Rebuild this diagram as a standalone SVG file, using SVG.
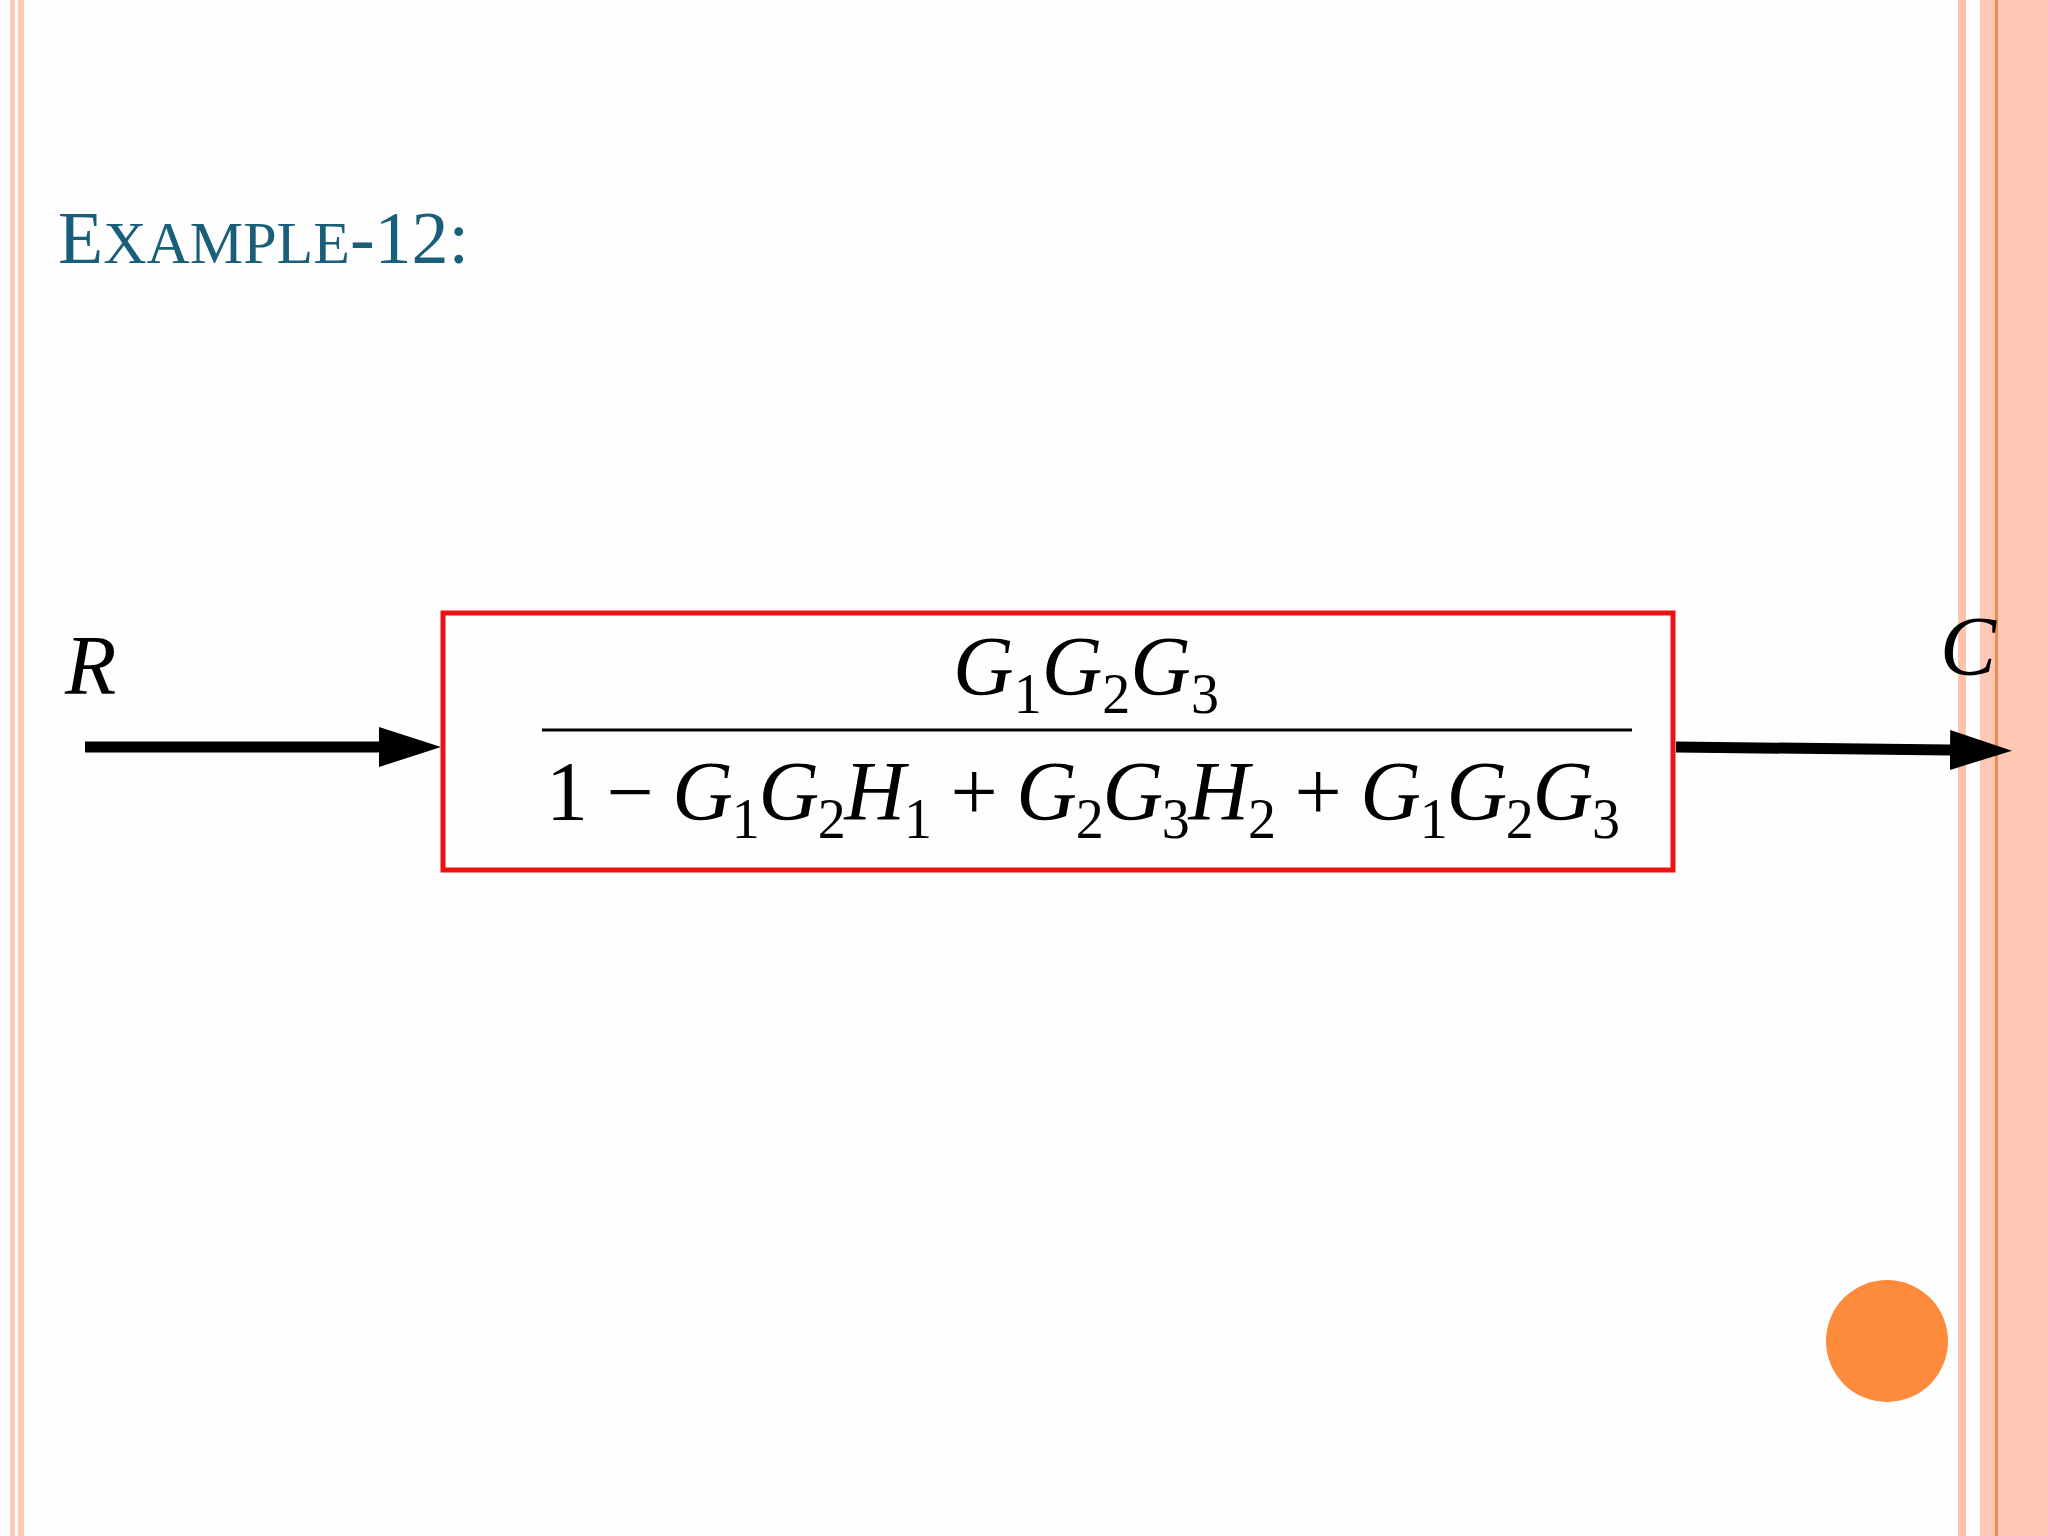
<svg xmlns="http://www.w3.org/2000/svg" width="2048" height="1536" viewBox="0 0 2048 1536">
<style>
.m{font-family:"Liberation Serif",serif;font-style:italic;font-size:84px;fill:#000}
.n{font-style:normal}
.s{font-size:56px;font-style:normal}
.ln{stroke:#000;stroke-width:11;fill:none}
</style>
<defs>
<marker id="h" viewBox="0 0 62 40" refX="0" refY="20" markerWidth="62" markerHeight="40" markerUnits="userSpaceOnUse" orient="auto"><path d="M0,0L62,20L0,40z" fill="#000"/></marker></defs>
<rect width="2048" height="1536" fill="#fefefe"/>
<rect x="10" y="0" width="5" height="1536" fill="#fbc9b6"/>
<rect x="18" y="0" width="6" height="1536" fill="#fbc9b6"/>
<rect x="1958" y="0" width="8" height="1536" fill="#fcc4ad"/>
<rect x="1980" y="0" width="68" height="1536" fill="#fdc8b4"/>
<rect x="1995" y="0" width="3" height="1536" fill="#f5874a"/>
<text x="58" y="263" font-family="Liberation Serif,serif" fill="#1a5f7a" font-size="74">E<tspan font-size="60">XAMPLE</tspan>-12:</text>
<g id="connectors">
<line class="ln" x1="85" y1="747" x2="379" y2="747" marker-end="url(#h)"/>
<line class="ln" x1="1676" y1="747" x2="1950" y2="750" marker-end="url(#h)"/>
</g>
<g id="R"><text class="m" x="65" y="694">R</text></g>
<g id="C"><text class="m" x="1940" y="675">C</text></g>
<g id="block">
<rect x="443" y="613" width="1230" height="257" fill="none" stroke="#ee1111" stroke-width="5"/>
<text class="m" x="1086" y="695" text-anchor="middle">G<tspan class="s" dy="18">1</tspan><tspan dy="-18">G</tspan><tspan class="s" dy="18">2</tspan><tspan dy="-18">G</tspan><tspan class="s" dy="18">3</tspan></text>
<line x1="542" y1="730" x2="1632" y2="730" stroke="#000" stroke-width="3"/>
<text class="m" x="546" y="820" textLength="1074" lengthAdjust="spacing"><tspan class="n">1 − </tspan>G<tspan class="s" dy="18">1</tspan><tspan dy="-18">G</tspan><tspan class="s" dy="18">2</tspan><tspan dy="-18">H</tspan><tspan class="s" dy="18">1</tspan><tspan class="n" dy="-18"> + </tspan>G<tspan class="s" dy="18">2</tspan><tspan dy="-18">G</tspan><tspan class="s" dy="18">3</tspan><tspan dy="-18">H</tspan><tspan class="s" dy="18">2</tspan><tspan class="n" dy="-18"> + </tspan>G<tspan class="s" dy="18">1</tspan><tspan dy="-18">G</tspan><tspan class="s" dy="18">2</tspan><tspan dy="-18">G</tspan><tspan class="s" dy="18">3</tspan></text>
</g>
<circle cx="1887" cy="1341" r="61" fill="#fe8a3c"/>
</svg>
